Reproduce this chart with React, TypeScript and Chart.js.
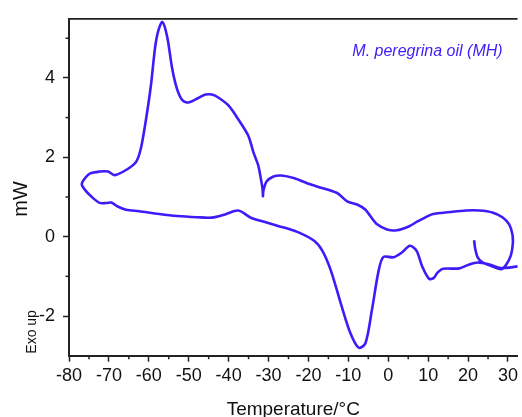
import React, { useEffect, useRef } from 'react';
import { Chart, registerables } from 'chart.js';

Chart.register(...registerables);

// DSC trace (parametric: temperature vs heat flow, in drawing order)
const temperature = [
  21.5, 21.8, 22.4, 23.6, 26.1, 28.2,
  29.4, 30.7, 31.2, 31.1, 30.3, 28.6, 26.1, 22.8, 19.5, 15.4, 11.2, 9.2, 7.1, 5.4, 2.1, -0.3, -2.8, -4.5, -5.7, -7.8, -10.3, -12.8, -17.7,
  -20.2, -23.5, -26.8, -28.9, -30.5, -31.3, -31.4, -31.5, -32.0, -32.6, -33.8, -35.1, -37.6, -40.0, -42.5, -44.2, -45.8, -47.5, -50.0,
  -51.6, -52.9, -54.1, -55.4, -56.6, -57.6, -58.4, -59.5, -60.7, -62.0, -63.2, -65.7, -68.6, -70.2, -72.3, -74.8, -76.0, -76.8,
  -76.0, -74.4, -72.3, -70.6, -69.4, -67.8, -65.7, -62.4, -57.4, -52.9, -48.0, -44.2, -40.9, -37.6, -34.3, -30.9, -27.6, -22.8,
  -18.5, -16.5, -14.4, -11.9, -9.5, -7.4, -5.7, -4.1, -2.4, -1.2, 1.3, 3.4, 5.4, 7.1, 8.5, 10.2, 11.4, 12.4, 13.7, 17.8, 20.3,
  22.4, 25.3, 28.2, 32.5,
];
const heatFlow = [
  -0.09, -0.31, -0.52, -0.65, -0.75, -0.82,
  -0.73, -0.48, -0.19, 0.06, 0.31, 0.49, 0.61, 0.66, 0.66, 0.62, 0.57, 0.48, 0.37, 0.27, 0.16, 0.18, 0.31, 0.52, 0.68, 0.81, 0.89, 1.1, 1.26,
  1.34, 1.47, 1.54, 1.51, 1.39, 1.15, 1.02, 1.2, 1.5, 1.8, 2.13, 2.55, 2.96, 3.3, 3.5, 3.58, 3.58, 3.5, 3.38,
  3.44, 3.71, 4.21, 5.04, 5.41, 5.2, 4.79, 3.79, 2.96, 2.22, 1.88, 1.68, 1.55, 1.64, 1.64, 1.59, 1.47, 1.32,
  1.18, 1.01, 0.85, 0.85, 0.86, 0.76, 0.68, 0.64, 0.57, 0.52, 0.49, 0.48, 0.56, 0.66, 0.47, 0.37, 0.27, 0.12,
  -0.11, -0.36, -0.85, -1.68, -2.43, -2.8, -2.68, -1.85, -0.85, -0.51, -0.52, -0.4, -0.23, -0.36, -0.75, -1.06, -1.04, -0.9, -0.81, -0.8, -0.7,
  -0.65, -0.7, -0.79, -0.75,
];

const xTickValues = [-80, -70, -60, -50, -40, -30, -20, -10, 0, 10, 20, 30];
const xMinorValues = [-75, -65, -55, -45, -35, -25, -15, -5, 5, 15, 25];
const yTickValues = [-2, 0, 2, 4];
const yMinorValues = [-1, 1, 3, 5];

const xTitle = 'Temperature/°C';
const yTitle = 'mW';
const exoText = 'Exo up';
const sampleText = 'M. peregrina oil (MH)';
const sampleAnchor = { x: -9.0, y: 4.55 };

const LINE_COLOR = 'rgb(60, 28, 248)';
const FONT = "'Liberation Sans', Arial, Helvetica, sans-serif";

const decorPlugin = {
  id: 'decor',
  afterDraw(chart: any) {
    const { ctx, chartArea, scales } = chart;
    const xs = scales.x;
    const ys = scales.y;
    ctx.save();
    ctx.strokeStyle = '#222';
    ctx.lineWidth = 1.5;
    xMinorValues.forEach((v) => {
      const px = xs.getPixelForValue(v);
      ctx.beginPath();
      ctx.moveTo(px, chartArea.bottom);
      ctx.lineTo(px, chartArea.bottom + 3.5);
      ctx.stroke();
    });
    yMinorValues.forEach((v) => {
      const py = ys.getPixelForValue(v);
      ctx.beginPath();
      ctx.moveTo(chartArea.left, py);
      ctx.lineTo(chartArea.left - 3.5, py);
      ctx.stroke();
    });
    // top frame line
    ctx.lineWidth = 1.8;
    ctx.beginPath();
    ctx.moveTo(chartArea.left, chartArea.top);
    ctx.lineTo(chartArea.right, chartArea.top);
    ctx.stroke();

    ctx.fillStyle = '#111';
    ctx.textAlign = 'center';
    ctx.textBaseline = 'middle';

    // "mW"
    ctx.font = `20px ${FONT}`;
    ctx.save();
    ctx.translate(21, ys.getPixelForValue(0.95));
    ctx.rotate(-Math.PI / 2);
    ctx.fillText(yTitle, 0, 0);
    ctx.restore();

    // "Exo up"
    ctx.font = `14px ${FONT}`;
    ctx.save();
    ctx.translate(32, ys.getPixelForValue(-2.4));
    ctx.rotate(-Math.PI / 2);
    ctx.fillText(exoText, 0, 0);
    ctx.restore();

    // sample label
    ctx.fillStyle = LINE_COLOR;
    ctx.font = `italic 16px ${FONT}`;
    ctx.textAlign = 'left';
    ctx.textBaseline = 'alphabetic';
    ctx.fillText(sampleText, xs.getPixelForValue(sampleAnchor.x), ys.getPixelForValue(sampleAnchor.y));
    ctx.restore();
  },
};

export default function App() {
  const canvasRef = useRef<HTMLCanvasElement | null>(null);

  useEffect(() => {
    if (!canvasRef.current) return;
    const points = temperature.map((t, i) => ({ x: t, y: heatFlow[i] }));
    const chart = new Chart(canvasRef.current, {
      type: 'scatter',
      data: {
        datasets: [
          {
            data: points,
            showLine: true,
            borderColor: LINE_COLOR,
            backgroundColor: LINE_COLOR,
            borderWidth: 2.6,
            pointRadius: 0,
            tension: 0.3,
            fill: false,
          },
        ],
      },
      plugins: [decorPlugin],
      options: {
        animation: false,
        responsive: false,
        maintainAspectRatio: false,
        layout: { padding: { top: 15, right: 0, left: 0, bottom: 0 } },
        plugins: {
          legend: { display: false },
          tooltip: { enabled: false },
        },
        scales: {
          x: {
            type: 'linear',
            min: -80,
            max: 32.4,
            afterBuildTicks: (scale: any) => {
              scale.ticks = xTickValues.map((v) => ({ value: v }));
            },
            afterFit: (scale: any) => {
              scale.height = 61.3;
            },
            ticks: {
              color: '#111',
              font: { family: FONT, size: 18 },
              padding: 4,
              maxRotation: 0,
              autoSkip: false,
              callback: (v: any) => String(v),
            },
            grid: {
              drawOnChartArea: false,
              drawTicks: true,
              tickLength: 6,
              tickWidth: 1.5,
              tickColor: '#222',
            },
            border: { display: true, color: '#222', width: 2 },
            title: {
              display: true,
              text: xTitle,
              color: '#111',
              font: { family: FONT, size: 19 },
              padding: { top: 0, bottom: -4 },
            },
          },
          y: {
            type: 'linear',
            min: -3,
            max: 5.49,
            afterBuildTicks: (scale: any) => {
              scale.ticks = yTickValues.map((v) => ({ value: v }));
            },
            afterFit: (scale: any) => {
              scale.width = 69;
            },
            ticks: {
              color: '#111',
              font: { family: FONT, size: 18 },
              padding: 8,
              autoSkip: false,
              callback: (v: any) => String(v),
            },
            grid: {
              drawOnChartArea: false,
              drawTicks: true,
              tickLength: 6,
              tickWidth: 1.5,
              tickColor: '#222',
            },
            border: { display: true, color: '#222', width: 2 },
            title: { display: false },
          },
        },
      },
    });
    return () => chart.destroy();
  }, []);

  return (
    <div style={{ position: 'fixed', left: 0, top: 0, width: 522, height: 417, overflow: 'hidden', background: '#fff' }}>
      <canvas ref={canvasRef} width={522} height={417} style={{ display: 'block', width: 522, height: 417 }} />
    </div>
  );
}
